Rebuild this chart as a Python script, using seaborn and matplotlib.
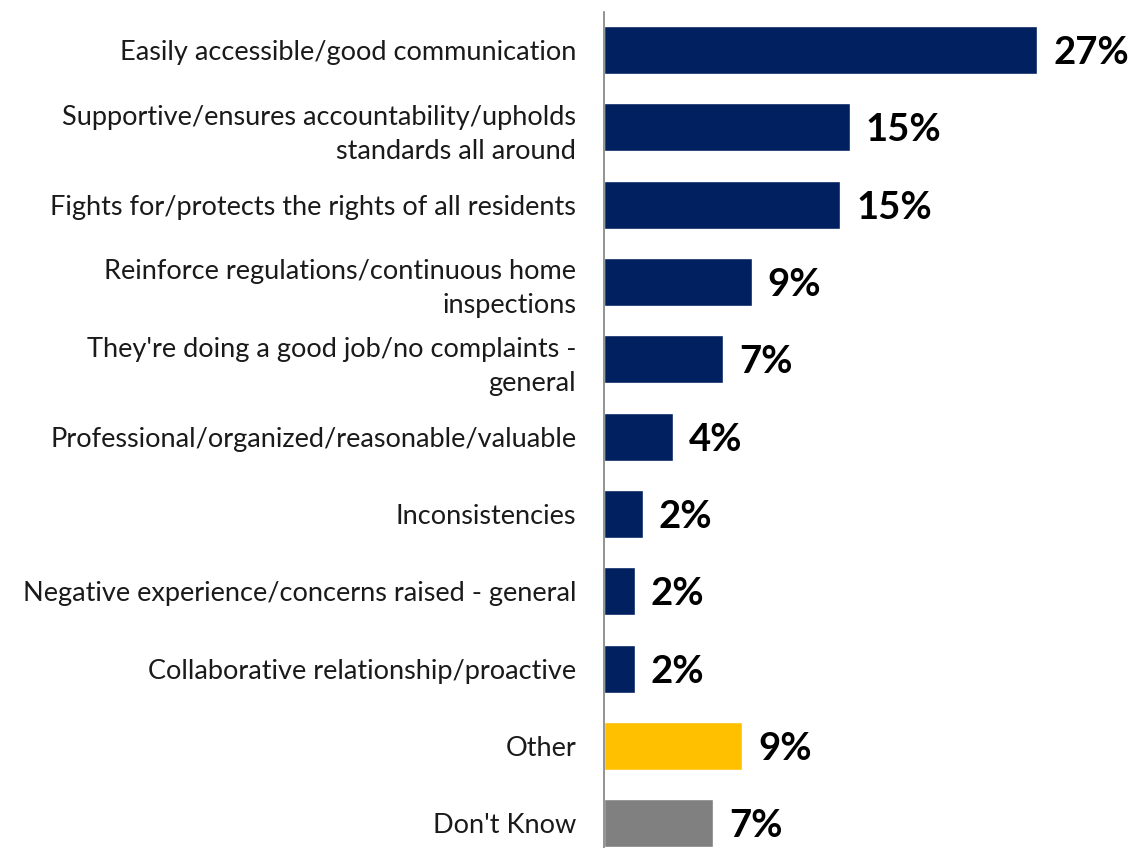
import pandas as pd
import matplotlib.pyplot as plt
import seaborn as sns

# Data
categories = [
    "Easily accessible/good communication",
    "Supportive/ensures accountability/upholds\nstandards all around",
    "Fights for/protects the rights of all residents",
    "Reinforce regulations/continuous home\ninspections",
    "They're doing a good job/no complaints -\ngeneral",
    "Professional/organized/reasonable/valuable",
    "Inconsistencies",
    "Negative experience/concerns raised - general",
    "Collaborative relationship/proactive",
    "Other",
    "Don't Know",
]
values = [27.0, 15.3, 14.7, 9.2, 7.4, 4.3, 2.4, 1.9, 1.9, 8.6, 6.8]
labels = ["27%", "15%", "15%", "9%", "7%", "4%", "2%", "2%", "2%", "9%", "7%"]
colors = ["#002060"] * 9 + ["#FFC000", "#808080"]

df = pd.DataFrame({"category": categories, "value": values})

sns.set_style("white")
plt.rcParams["font.family"] = ["Lato", "DejaVu Sans"]

fig = plt.figure(figsize=(11.45, 8.48), dpi=100)
ax = fig.add_axes([604 / 1145, 0, 1 - 604 / 1145, 1 - 12 / 848])

sns.barplot(data=df, x="value", y="category", hue="category", palette=colors,
            legend=False, width=0.62, ax=ax, saturation=1)

for i, (v, lab) in enumerate(zip(values, labels)):
    ax.text(v + 1.0, i + 0.04, lab, va="center", ha="left", fontsize=27.5,
            fontweight="bold", color="black")

ax.set_xlim(0, 33.7)
ax.set_ylim(10.32, -0.49)
ax.set_xlabel("")
ax.set_ylabel("")
ax.set_xticks([])
ax.tick_params(axis="y", length=0, pad=20, labelsize=19.5, labelcolor="#1a1a1a")
for lab in ax.get_yticklabels():
    lab.set_horizontalalignment("right")
    lab.set_multialignment("right")
    lab.set_linespacing(1.45)
for s in ["top", "right", "bottom"]:
    ax.spines[s].set_visible(False)
ax.spines["left"].set_color("#808080")
ax.spines["left"].set_linewidth(1.2)

fig.savefig("out.png", dpi=100)
